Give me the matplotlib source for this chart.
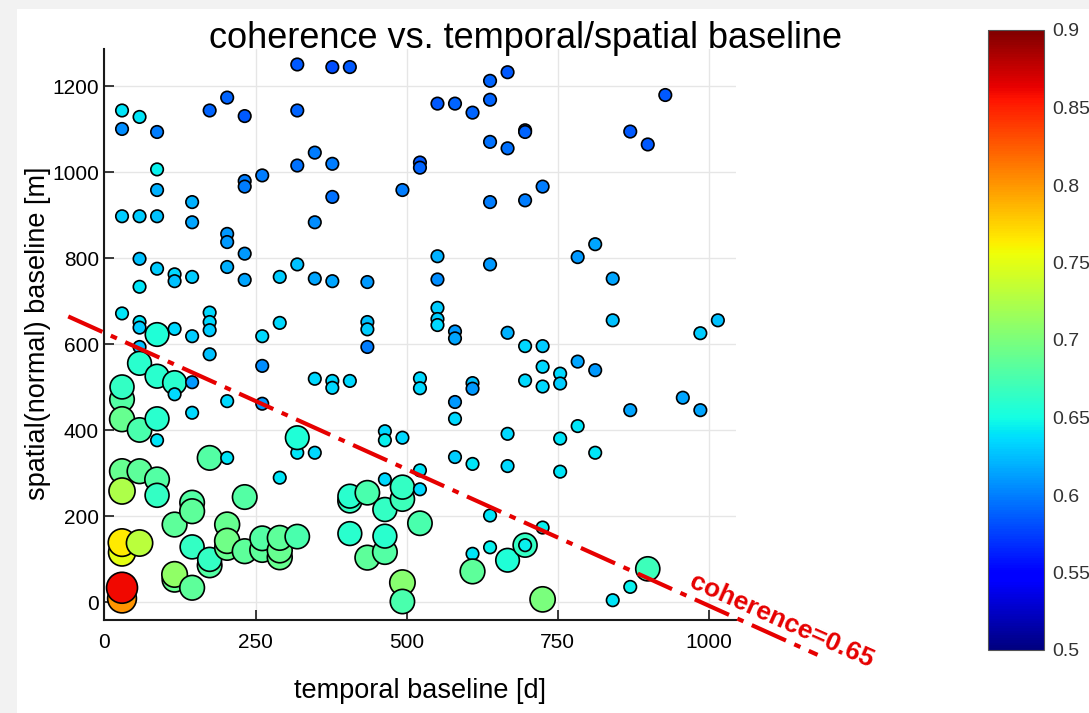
import matplotlib.pyplot as plt
import numpy as np
from matplotlib.patches import Rectangle

plt.rcParams['font.family'] = ['Liberation Sans', 'DejaVu Sans']

# temporal baseline [d] of each interferogram
temporal = [
    29, 29, 29, 29, 29, 29, 29, 29, 29, 29, 29, 29, 29,
    58, 58, 58, 58, 58, 58, 58, 58, 58, 58, 58,
    87, 87, 87, 87, 87, 87, 87, 87, 87, 87, 87,
    116, 116, 116, 116, 116, 116, 116, 116,
    145, 145, 145, 145, 145, 145, 145, 145, 145, 145,
    174, 174, 174, 174, 174, 174, 174, 174,
    203, 203, 203, 203, 203, 203, 203, 203, 203,
    232, 232, 232, 232, 232, 232, 232,
    261, 261, 261, 261, 261, 261,
    290, 290, 290, 290, 290, 290,
    319, 319, 319, 319, 319, 319, 319,
    348, 348, 348, 348, 348,
    377, 377, 377, 377, 377, 377,
    406, 406, 406, 406, 406,
    435, 435, 435, 435, 435, 435,
    464, 464, 464, 464, 464, 464,
    493, 493, 493, 493, 493, 493,
    522, 522, 522, 522, 522, 522, 522,
    551, 551, 551, 551, 551, 551,
    580, 580, 580, 580, 580, 580,
    609, 609, 609, 609, 609, 609,
    638, 638, 638, 638, 638, 638, 638,
    667, 667, 667, 667, 667, 667,
    696, 696, 696, 696, 696, 696, 696,
    725, 725, 725, 725, 725, 725,
    754, 754, 754, 754,
    783, 783, 783,
    812, 812, 812,
    841, 841, 841,
    870, 870, 870,
    899, 899,
    928,
    957,
    986, 986,
    1015,
]

# spatial (normal) baseline [m]
spatial = [
    1144, 1101, 898, 672, 472, 501, 426, 305, 259, 116, 139, 9, 34,
    1129, 898, 799, 734, 652, 639, 594, 556, 401, 305, 138,
    1094, 1007, 959, 898, 776, 623, 526, 427, 377, 286, 249,
    763, 747, 636, 511, 484, 181, 53, 65,
    931, 884, 757, 619, 512, 441, 232, 212, 129, 34,
    1144, 674, 652, 633, 577, 336, 86, 100,
    1174, 857, 838, 780, 468, 336, 181, 127, 143,
    1131, 980, 967, 811, 750, 245, 119,
    993, 619, 550, 462, 122, 149,
    757, 650, 290, 105, 121, 150,
    1251, 1144, 1016, 786, 348, 383, 153,
    1046, 884, 753, 520, 348,
    1245, 1020, 943, 747, 515, 499,
    1245, 515, 236, 247, 160,
    745, 652, 635, 594, 255, 104,
    398, 377, 286, 216, 117, 154,
    959, 383, 240, 268, 46, 2,
    1023, 1011, 521, 498, 307, 263, 184,
    1160, 805, 751, 685, 659, 645,
    1160, 630, 614, 466, 427, 338,
    1139, 510, 497, 322, 113, 72,
    1213, 1169, 1071, 931, 786, 202, 128,
    1233, 1056, 627, 392, 317, 98,
    1098, 1094, 935, 596, 516, 133, 133,
    967, 596, 548, 502, 174, 7,
    532, 509, 381, 304,
    803, 560, 410,
    833, 540, 348,
    753, 656, 5,
    1095, 447, 36,
    1065, 78,
    1180,
    476,
    626, 447,
    656,
]

# mean coherence of each interferogram
coherence = [
    .64, .605, .63, .64, .68, .665, .69, .69, .725, .75, .765, .80, .86,
    .64, .63, .625, .64, .64, .63, .625, .66, .675, .685, .73,
    .60, .645, .62, .625, .63, .655, .66, .66, .64, .68, .665,
    .635, .625, .635, .66, .635, .685, .69, .71,
    .62, .615, .63, .63, .61, .635, .68, .685, .665, .685,
    .59, .635, .635, .63, .625, .68, .68, .665,
    .59, .61, .61, .62, .635, .64, .69, .69, .695,
    .585, .60, .60, .61, .615, .68, .685,
    .60, .635, .605, .61, .685, .68,
    .63, .635, .64, .69, .69, .685,
    .585, .59, .595, .625, .64, .655, .675,
    .60, .605, .615, .635, .635,
    .58, .60, .595, .615, .635, .635,
    .585, .635, .665, .66, .66,
    .61, .625, .63, .60, .675, .685,
    .635, .645, .635, .665, .68, .66,
    .60, .635, .67, .665, .705, .675,
    .585, .59, .635, .635, .64, .635, .675,
    .585, .62, .605, .63, .63, .635,
    .59, .61, .615, .61, .635, .63,
    .59, .625, .61, .64, .64, .685,
    .59, .59, .595, .60, .61, .64, .645,
    .585, .595, .62, .635, .635, .655,
    .59, .59, .60, .635, .635, .665, .645,
    .60, .63, .635, .635, .645, .70,
    .635, .63, .64, .64,
    .61, .615, .64,
    .615, .61, .64,
    .615, .625, .64,
    .585, .615, .645,
    .585, .67,
    .585,
    .615,
    .63, .615,
    .625,
]

# coherence = 0.65 threshold line (temporal, spatial)
thresh_t = [-60, 1180]
thresh_b = [665, -122]

xticks = [0, 250, 500, 750, 1000]
yticks = [0, 200, 400, 600, 800, 1000, 1200]
cbar_ticks = [0.5, 0.55, 0.6, 0.65, 0.7, 0.75, 0.8, 0.85, 0.9]
cbar_labels = ['0.5', '0.55', '0.6', '0.65', '0.7', '0.75', '0.8', '0.85', '0.9']

W, H = 1089, 713
fig = plt.figure(figsize=(W / 100, H / 100), dpi=100, facecolor='#f2f2f2')
fig.add_artist(Rectangle((17 / W, 0), 1 - 17 / W, 1 - 9 / H, transform=fig.transFigure,
                         facecolor='white', edgecolor='none', zorder=0))

ax = fig.add_axes([104.5 / W, 1 - 620 / H, (736 - 104.5) / W, (620 - 49) / H])

coh = np.array(coherence)
sizes = np.where(coh > 0.65, (25.9 * coh) ** 2, 81)
sc = ax.scatter(temporal, spatial, s=sizes, c=coh, cmap='jet', vmin=0.5, vmax=0.9,
                edgecolors='black', linewidths=1.2, zorder=3)

red = '#e60000'
ax.plot(thresh_t, thresh_b, color=red, lw=3, dashes=[9, 2.2, 1.6, 2.2],
        clip_on=False, zorder=4)
ax.text(1121, -43, 'coherence=0.65', color=red, fontsize=19, fontweight='bold',
        rotation=-24, rotation_mode='anchor', ha='center', va='center',
        clip_on=False, zorder=5)

ax.set_xlim(0, 1045)
ax.set_ylim(-41, 1287)
ax.set_xticks(xticks)
ax.set_yticks(yticks)
ax.grid(True, color='#e6e6e6', lw=1)
ax.set_axisbelow(True)
for side in ['top', 'right']:
    ax.spines[side].set_visible(False)
for side in ['left', 'bottom']:
    ax.spines[side].set_linewidth(1.5)
    ax.spines[side].set_color('#1a1a1a')
ax.tick_params(direction='in', length=7, width=1.2, labelsize=15, color='#1a1a1a')
ax.tick_params(axis='x', pad=9)
ax.tick_params(axis='y', pad=4)

fig.text(525.5 / W, 1 - 48.5 / H, 'coherence vs. temporal/spatial baseline',
         fontsize=26, ha='center', va='baseline')
fig.text(420 / W, 1 - 698 / H, 'temporal baseline [d]', fontsize=19.5,
         ha='center', va='baseline')
fig.text(38 / W, 1 - 333 / H, 'spatial(normal) baseline [m]', fontsize=19.5,
         rotation=90, ha='center', va='center')

cax = fig.add_axes([988 / W, 1 - 650 / H, 56 / W, 620 / H])
cb = fig.colorbar(sc, cax=cax, ticks=cbar_ticks)
cb.set_ticklabels(cbar_labels)
cb.ax.tick_params(length=0, labelsize=14, pad=6, labelcolor='#333333')
cb.outline.set_edgecolor('#555555')
cb.outline.set_linewidth(0.8)

fig.savefig('out.png', dpi=100, facecolor=fig.get_facecolor())
